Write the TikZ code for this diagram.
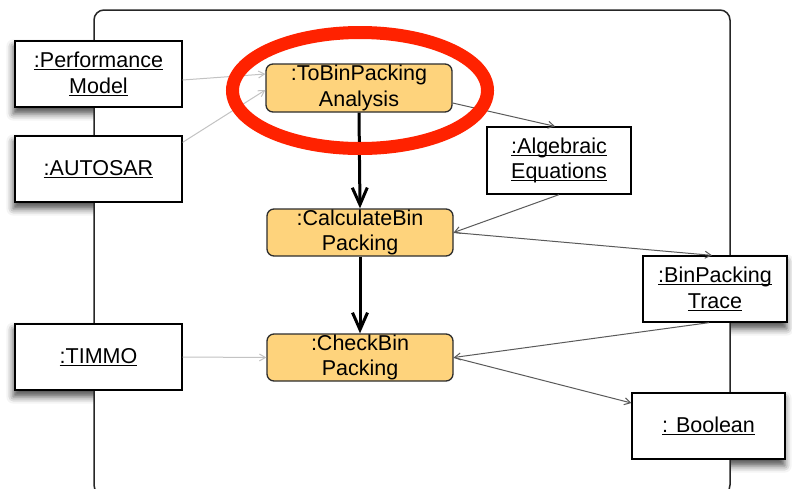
\documentclass[tikz,border=0pt]{standalone}
\usepackage{fontspec}
\setmainfont{Liberation Sans}
\usetikzlibrary{arrows.meta,calc,shadows.blur}

\definecolor{actfill}{RGB}{254,211,124}
\definecolor{actline}{RGB}{45,45,45}
\definecolor{linkdark}{RGB}{90,90,90}
\definecolor{linklight}{RGB}{195,195,195}
\definecolor{markred}{RGB}{255,34,0}

% underline at a fixed depth, independent of descenders
\newcommand\uln[1]{\setbox0=\hbox{#1}\rlap{\rule[-2.6pt]{\wd0}{1pt}}\box0}

\pgfdeclarelayer{shade}
\pgfdeclarelayer{framelayer}
\pgfsetlayers{shade,framelayer,main}

\tikzset{
  txt/.style={font={\fontsize{21.5}{25.5}\selectfont}, align=center, inner sep=0pt},
  objbox/.style={txt, draw=black, fill=white, line width=1.3pt},
  actbox/.style={txt, draw=actline, fill=actfill, line width=1.3pt, rounded corners=7pt,
                 minimum width=186pt, minimum height=47pt},
  objshadow/.style={fill=white, blur shadow={shadow xshift=-1pt, shadow yshift=-6pt,
                 shadow blur radius=7pt, shadow opacity=70}},
  flow/.style={line width=3pt, -{Straight Barb[length=17pt,width=15pt]}},
  datalink/.style={draw=linkdark, line width=1pt, -{Straight Barb[length=6pt,width=7pt]}},
  inlink/.style={draw=linklight, line width=1pt, -{Straight Barb[length=6pt,width=7pt]}},
  container/.style={draw=black!85, fill=white, line width=1.5pt, rounded corners=10pt},
}

\begin{document}
\begin{tikzpicture}[x=1pt,y=-1pt]
\useasboundingbox (0,0) rectangle (792,488);

% object nodes
\node[objbox, minimum width=167pt, minimum height=66pt] (perf) at (98.5,74)
  {\uln{:Performance}\\\uln{Model}};
\node[objbox, minimum width=167pt, minimum height=66pt] (autosar) at (98.5,169)
  {\uln{:AUTOSAR}};
\node[objbox, minimum width=167pt, minimum height=66pt] (timmo) at (98.5,357)
  {\uln{:TIMMO}};
\node[objbox, minimum width=144pt, minimum height=67pt] (alg) at (559,160.5)
  {\uln{:Algebraic}\\\uln{Equations}};
\node[objbox, minimum width=144pt, minimum height=66pt] (trace) at (715,289)
  {\uln{:BinPacking}\\\uln{Trace}};
\node[objbox, minimum width=153pt, minimum height=66pt] (bool) at (708.5,426)
  {\uln{: Boolean}};

% activity nodes
\node[actbox, minimum height=48pt] (tobin) at (359,88) {:ToBinPacking\\Analysis};
\node[actbox] (calc) at (360,232.5) {:CalculateBin\\Packing};
\node[actbox] (check) at (360,357.5) {:CheckBin\\Packing};

% drop shadows and the enclosing frame behind the nodes
\begin{pgfonlayer}{shade}
  \foreach \n in {perf,autosar,timmo,alg,trace,bool}
    \path[objshadow] (\n.south west) rectangle (\n.north east);
\end{pgfonlayer}
\begin{pgfonlayer}{framelayer}
  \coordinate (frameTL) at (94,10);
  \coordinate (frameBR) at (730,495);
  \path[container] (frameTL) rectangle (frameBR);
\end{pgfonlayer}

% inputs from outside
\draw[inlink] ($(perf.east)+(0,6)$) -- ($(tobin.west)+(0,-14)$);
\draw[inlink] ($(autosar.north east)+(0,7)$) -- ($(tobin.west)+(0,2)$);
\draw[inlink] (timmo.east) -- (check.west);

% control flow
\draw[flow] (tobin.south) -- (calc.north);
\draw[flow] (calc.south) -- (check.north);

% data links
\draw[datalink] ($(tobin.east)+(0,15)$) -- ($(alg.north)+(-4,0)$);
\draw[datalink] (alg.south) -- (calc.east);
\draw[datalink] (calc.east) -- ($(trace.north)+(-3,0)$);
\draw[datalink] ($(trace.south)+(-6,0)$) -- (check.east);
\draw[datalink] (check.east) -- ($(bool.west)+(0,-23)$);

% highlight ring
\draw[markred, line width=13pt] (360,90.5) ellipse [x radius=127.5, y radius=58];
\end{tikzpicture}
\end{document}
